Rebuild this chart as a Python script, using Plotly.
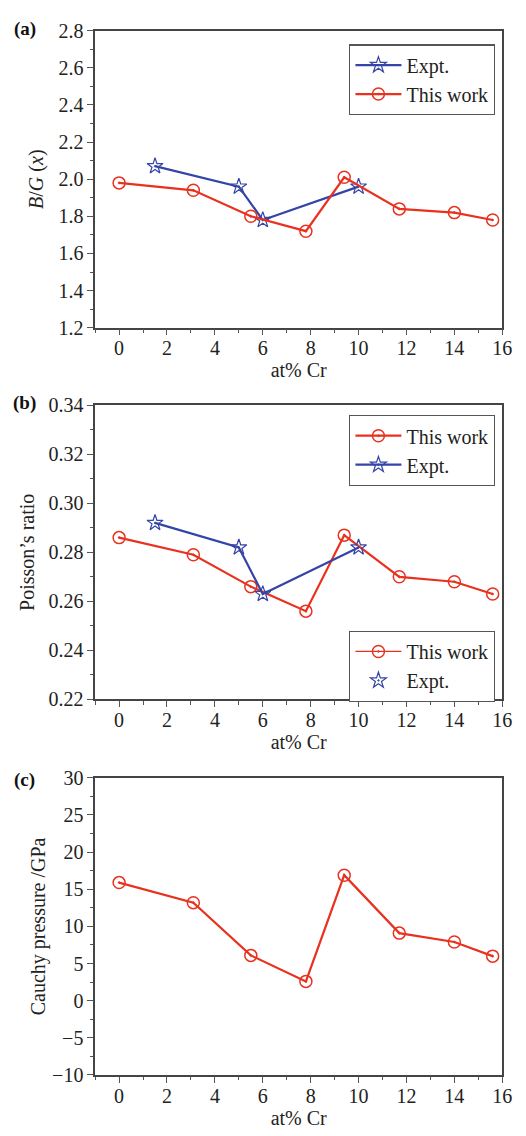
import plotly.graph_objects as go

# ---- data ----
x_this = [0, 3.1, 5.5, 7.8, 9.4, 11.7, 14.0, 15.6]
x_expt = [1.5, 5.0, 6.0, 10.0]

bg_this = [1.98, 1.94, 1.80, 1.72, 2.01, 1.84, 1.82, 1.78]
bg_expt = [2.07, 1.96, 1.78, 1.96]

nu_this = [0.286, 0.279, 0.266, 0.256, 0.287, 0.270, 0.268, 0.263]
nu_expt = [0.292, 0.282, 0.263, 0.282]

cp_this = [15.9, 13.2, 6.1, 2.6, 16.9, 9.1, 7.9, 6.0]

RED = "#e8321f"
BLUE = "#3445a6"
FONT = "Liberation Serif"
W, H = 526, 1136

def px_y(y):
    return 1 - y / H

fig = go.Figure()

circ = dict(symbol="circle-open-dot", size=12, color=RED, line=dict(width=1.5, color=RED))
star = dict(symbol="star-open-dot", size=12, color=BLUE, line=dict(width=1.2, color=BLUE))

# (a)
fig.add_trace(go.Scatter(x=x_expt, y=bg_expt, mode="lines+markers", name="Expt.",
                         line=dict(color=BLUE, width=2.2), marker=star,
                         xaxis="x", yaxis="y", legend="legend"))
fig.add_trace(go.Scatter(x=x_this, y=bg_this, mode="lines+markers", name="This work",
                         line=dict(color=RED, width=2.2), marker=circ,
                         xaxis="x", yaxis="y", legend="legend"))
# (b)
fig.add_trace(go.Scatter(x=x_this, y=nu_this, mode="lines+markers", name="This work",
                         line=dict(color=RED, width=2.2), marker=circ,
                         xaxis="x2", yaxis="y2", legend="legend2"))
fig.add_trace(go.Scatter(x=x_expt, y=nu_expt, mode="lines+markers", name="Expt.",
                         line=dict(color=BLUE, width=2.2), marker=star,
                         xaxis="x2", yaxis="y2", legend="legend2"))
# legend-only entries for second legend of (b)
fig.add_trace(go.Scatter(x=[None], y=[None], mode="lines+markers", name="This work",
                         line=dict(color=RED, width=1.2), marker=circ,
                         xaxis="x2", yaxis="y2", legend="legend3"))
fig.add_trace(go.Scatter(x=[None], y=[None], mode="markers", name="Expt.",
                         marker=star, xaxis="x2", yaxis="y2", legend="legend3"))
# (c)
fig.add_trace(go.Scatter(x=x_this, y=cp_this, mode="lines+markers", name="This work",
                         line=dict(color=RED, width=2.2), marker=circ,
                         xaxis="x3", yaxis="y3", showlegend=False))

xdom = [97 / W, 512 / W]
axis_common = dict(showline=True, linecolor="#444", linewidth=1.5, mirror=True,
                   ticks="outside", ticklen=6, tickwidth=1.2, tickcolor="#555",
                   showgrid=False, zeroline=False,
                   tickfont=dict(family=FONT, size=20, color="#222"),
                   title_font=dict(family=FONT, size=20, color="#222"))

def xaxis(anchor):
    return dict(axis_common, domain=xdom, anchor=anchor, range=[-1, 16],
                tickmode="linear", tick0=0, dtick=2, ticklabelstandoff=-4,
                minor=dict(ticks="outside", ticklen=3.5, tickwidth=1.2, tickcolor="#555", dtick=1, tick0=0),
                title=dict(text="at% Cr", standoff=2))

def yaxis(anchor, dom, rng, dtick, mdtick, title, fmt, standoff):
    return dict(axis_common, domain=dom, anchor=anchor, range=rng,
                tickmode="linear", tick0=rng[0], dtick=dtick, tickformat=fmt,
                minor=dict(ticks="outside", ticklen=3.5, tickwidth=1.2, tickcolor="#555", dtick=mdtick, tick0=rng[0]),
                title=dict(text=title, standoff=standoff))

leg_common = dict(xanchor="left", yanchor="top",
                  bordercolor="#555", borderwidth=1.2, bgcolor="white",
                  font=dict(family=FONT, size=20, color="#222"),
                  tracegroupgap=0, itemwidth=46)

fig.update_layout(
    width=W, height=H, margin=dict(l=0, r=0, t=0, b=0),
    paper_bgcolor="white", plot_bgcolor="white",
    font=dict(family=FONT, size=20, color="#222"),
    xaxis=xaxis("y"),
    yaxis=yaxis("x", [px_y(323), px_y(20)], [1.2, 2.8], 0.2, 0.1,
                "<i>B</i>/<i>G</i> (<i>x</i>)", ".1f", 9),
    xaxis2=xaxis("y2"),
    yaxis2=yaxis("x2", [px_y(702), px_y(402)], [0.22, 0.34], 0.02, 0.01,
                 "Poisson\u2019s ratio", ".2f", 8),
    xaxis3=xaxis("y3"),
    yaxis3=yaxis("x3", [px_y(1085), px_y(782)], [-10, 30], 5, 2.5,
                 "Cauchy pressure /GPa", "d", 1),
    legend=dict(leg_common, x=356 / W, y=px_y(34)),
    legend2=dict(leg_common, x=356 / W, y=px_y(412)),
    legend3=dict(leg_common, x=356 / W, y=px_y(632)),
)

for lab, ypx in [("(a)", 18), ("(b)", 400), ("(c)", 784)]:
    fig.add_annotation(text="<b>" + lab + "</b>", xref="paper", yref="paper",
                       x=25 / W, y=px_y(ypx), xanchor="center", yanchor="middle",
                       showarrow=False, font=dict(family=FONT, size=19, color="#111"))

fig.write_html("out.html")
